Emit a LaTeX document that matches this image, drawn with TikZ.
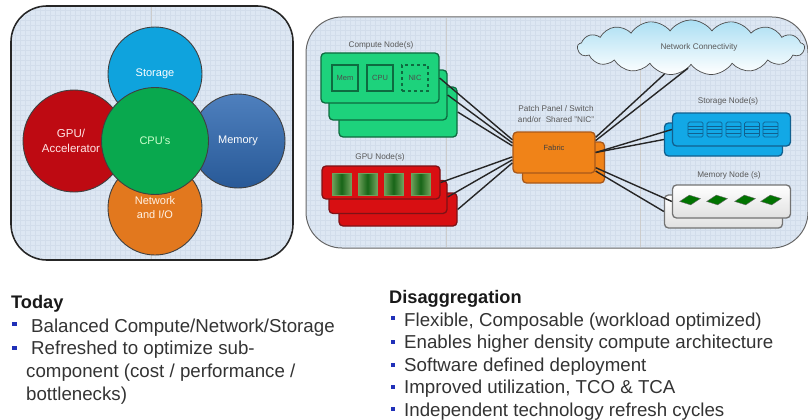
\documentclass[tikz,border=0pt]{standalone}
\usepackage{fontspec}
\setmainfont{Liberation Sans}
\usetikzlibrary{shapes.geometric,shapes.symbols}
\definecolor{panelblue}{HTML}{DDE7F3}
\definecolor{gridblue}{HTML}{D2DDEB}
\definecolor{storeblue}{HTML}{0FA3DD}
\definecolor{memblue}{HTML}{2F69B2}
\definecolor{cpured}{HTML}{BE0A12}
\definecolor{cpugreen}{HTML}{09A84E}
\definecolor{ioorange}{HTML}{E2781E}
\definecolor{nodegreen}{HTML}{1DD27C}
\definecolor{edgegreen}{HTML}{0E6B40}
\definecolor{gpured}{HTML}{D80F12}
\definecolor{edgered}{HTML}{7E1216}
\definecolor{fabricorange}{HTML}{F08318}
\definecolor{edgeorange}{HTML}{A8581A}
\definecolor{diskblue}{HTML}{12A8E6}
\definecolor{edgeblue}{HTML}{11608F}
\definecolor{bulletblue}{HTML}{2030B8}
\definecolor{chipedge}{HTML}{6FA05C}
\definecolor{chipcore}{HTML}{176517}
\newcommand{\fsize}[1]{\fontsize{#1}{#1}\selectfont}
\begin{document}
\begin{tikzpicture}[x=1pt,y=-1pt,
panel/.style={rectangle,rounded corners=36pt,fill=panelblue,inner sep=0pt},
petal/.style={circle,draw=black!75,line width=0.9pt,inner sep=0pt,align=center,text=white,font=\fsize{11}},
cardbox/.style={rectangle,rounded corners=4pt,line width=1.3pt,inner sep=0pt,minimum width=118pt},
greenbox/.style={cardbox,fill=nodegreen,draw=edgegreen,minimum height=50pt},
redbox/.style={cardbox,fill=gpured,draw=edgered,minimum height=33pt},
bluebox/.style={cardbox,fill=diskblue,draw=edgeblue,minimum height=33pt},
greybox/.style={cardbox,top color=white,bottom color=black!12,draw=black!55,minimum height=33pt},
orangebox/.style={cardbox,fill=fabricorange,draw=edgeorange,minimum width=82pt,minimum height=41pt},
slot/.style={rectangle,draw=edgegreen,line width=1.2pt,inner sep=0pt,minimum size=26pt,font=\fsize{7.5},text=black!70},
chip/.style={rectangle,inner sep=0pt,minimum width=19pt,minimum height=22pt,left color=chipedge,right color=chipedge,middle color=chipcore,draw=chipedge},
disk/.style={rectangle,rounded corners=1.5pt,draw=edgeblue,line width=0.7pt,inner sep=0pt,minimum width=15pt,minimum height=15pt,
  path picture={\draw[edgeblue,line width=0.6pt] (path picture bounding box.west) -- (path picture bounding box.east);
  \draw[edgeblue,line width=0.6pt] ([yshift=3.5pt]path picture bounding box.west) -- ([yshift=3.5pt]path picture bounding box.east);
  \draw[edgeblue,line width=0.6pt] ([yshift=-3.5pt]path picture bounding box.west) -- ([yshift=-3.5pt]path picture bounding box.east);}},
dimm/.style={diamond,fill=green!45!black,draw=black!60,inner sep=0pt,minimum width=21pt,minimum height=10pt,rotate=8},
tinytext/.style={inner sep=0pt,text=black!65,font=\fsize{8.2}},
link/.style={black!85,line width=1.4pt},
heading/.style={anchor=base west,inner sep=0pt,text=black!90,font=\fsize{18.2}\bfseries},
itemtext/.style={anchor=base west,inner sep=0pt,text=black!80,font=\fsize{18.7}},
bullet/.style={rectangle,fill=bulletblue,inner sep=0pt,minimum size=4.5pt}]
\useasboundingbox (0,0) rectangle (808,420);

% left panel
\node[panel,draw=black!85,line width=1.6pt,minimum width=282pt,minimum height=254pt] (leftpanel) at (152,133) {};
\begin{scope}
\clip[rounded corners=35pt] (12,7) rectangle (292,259);
\draw[gridblue,line width=0.3pt,step=5pt] (12,7) grid (292,259);
\draw[black!20,line width=0.4pt] (151,7) -- (151,259);
\end{scope}
\node[petal,fill=storeblue,minimum size=94pt] (storage) at (155,74) {Storage};
\node[petal,fill=ioorange,minimum size=94pt] (network) at (155,208) {};
\node[petal,top color=memblue!85!white,bottom color=memblue!85!black,minimum size=94pt] (memory) at (238,141) {Memory};
\node[petal,fill=cpured,minimum size=102pt] (gpu) at (74,141) {};
\node[petal,fill=cpugreen,minimum size=107pt,text=white!80!green] (cpu) at (155,141) {CPU's};
\node[inner sep=0pt,align=center,text=white!90!red,font=\fsize{11.5}] (gpulabel) at (71,141) {GPU/\\[3pt]Accelerator};
\node[inner sep=0pt,align=center,text=white!90!orange,font=\fsize{11}] (networklabel) at (155,208) {Network\\[3pt]and I/O};

% right panel
\node[panel,draw=black!60,line width=1pt,minimum width=502pt,minimum height=231pt] (rightpanel) at (557,132.5) {};
\begin{scope}
\clip[rounded corners=35pt] (307,18) rectangle (807,247);
\draw[gridblue,line width=0.3pt,step=5pt] (307,18) grid (807,247);
\draw[black!20,line width=0.4pt] (446,18) -- (446,247);
\draw[black!20,line width=0.4pt] (640,18) -- (640,247);
\end{scope}

% compute
\node[greenbox] (compute3) at (398,112) {};
\node[greenbox] (compute2) at (388,95) {};
\node[greenbox] (compute1) at (380,78) {};
\node[slot] (mem) at (345,78) {Mem};
\node[slot] (cpuslot) at (380,78) {CPU};
\node[slot,dashed] (nic) at (415,78) {NIC};
\node[tinytext] (computelabel) at (381,45) {Compute Node(s)};

% gpu
\node[redbox] (gpu3) at (398,209.5) {};
\node[redbox] (gpu2) at (388,197) {};
\node[redbox] (gpu1) at (381,182.5) {};
\node[chip] (chipa) at (341.5,184) {};
\node[chip] (chipb) at (367.5,184) {};
\node[chip] (chipc) at (393.5,184) {};
\node[chip] (chipd) at (420.5,184) {};
\node[tinytext] (gpulabeltwo) at (380,157) {GPU Node(s)};

% fabric
\node[orangebox] (fabricback) at (563.5,162.5) {};
\node[orangebox] (fabric) at (554,152.5) {};
\node[tinytext,align=center] (fabriclabel) at (556,114) {Patch Panel / Switch\\[2pt]and/or \ Shared "NIC"};
\node[inner sep=0pt,text=black!75,font=\fsize{7.5}] (fabrictext) at (554,148) {Fabric};

% storage and memory
\node[bluebox] (store2) at (723.5,139.5) {};
\node[bluebox] (store1) at (731.5,129.5) {};
\node[disk] (diska) at (695.5,129.5) {};
\node[disk] (diskb) at (714.5,129.5) {};
\node[disk] (diskc) at (733.5,129.5) {};
\node[disk] (diskd) at (752,129.5) {};
\node[disk] (diske) at (770.5,129.5) {};
\node[tinytext] (storelabel) at (728,101) {Storage Node(s)};

\node[greybox] (dimm2) at (723.5,211.5) {};
\node[greybox] (dimm1) at (731.5,201.5) {};
\node[dimm] (dimma) at (690,200) {};
\node[dimm] (dimmb) at (717,200) {};
\node[dimm] (dimmc) at (745,200) {};
\node[dimm] (dimmd) at (771,200) {};
\node[tinytext] (dimmlabel) at (729,175) {Memory Node (s)};

% cloud
\node[cloud,cloud puffs=17,cloud puff arc=110,aspect=4,draw=black!70,line width=0.7pt,inner sep=0pt,minimum width=227pt,minimum height=55pt,top color=storeblue!35,bottom color=white,shading angle=0] (net) at (691,47.5) {};
\node[tinytext] (netlabel) at (699,47) {Network Connectivity};

% links
\draw[link] (compute1.east) -- (fabric.163);
\draw[link] (compute2.east) -- (fabric.167);
\draw[link] (compute3.east) -- (fabric.171);
\draw[link] (gpu1.east) -- (fabric.186);
\draw[link] (gpu2.east) -- (fabric.190);
\draw[link] (gpu3.east) -- (fabric.194);
\draw[link] (fabric.20) -- (net.225);
\draw[link] (fabric.16) -- (net.262);
\draw[link] (fabric.east) -- (store1.west);
\draw[link] (fabric.east) -- (store2.west);
\draw[link] (fabric.-20) -- (dimm1.west);
\draw[link] (fabric.-24) -- (dimm2.west);

% text left
\node[heading] (today) at (11,308) {Today};
\node[bullet] (bulla) at (14.5,324) {};
\node[itemtext] (itema) at (31,332) {Balanced Compute/Network/Storage};
\node[bullet] (bullb) at (14.5,348) {};
\node[itemtext] (itemb) at (31,354) {Refreshed to optimize sub-};
\node[itemtext] (itemc) at (26,377) {component (cost / performance /};
\node[itemtext] (itemd) at (26,400) {bottlenecks)};

% text right
\node[heading] (disagg) at (389,303) {Disaggregation};
\node[bullet] (bullc) at (393,318) {};
\node[itemtext] (iteme) at (404,326) {Flexible, Composable (workload optimized)};
\node[bullet] (bulld) at (393,342) {};
\node[itemtext] (itemf) at (404,348) {Enables higher density compute architecture};
\node[bullet] (bulle) at (393,365) {};
\node[itemtext] (itemg) at (404,371) {Software defined deployment};
\node[bullet] (bullf) at (393,387) {};
\node[itemtext] (itemh) at (404,393) {Improved utilization, TCO \& TCA};
\node[bullet] (bullg) at (393,409) {};
\node[itemtext] (itemi) at (404,416) {Independent technology refresh cycles};
\end{tikzpicture}
\end{document}
